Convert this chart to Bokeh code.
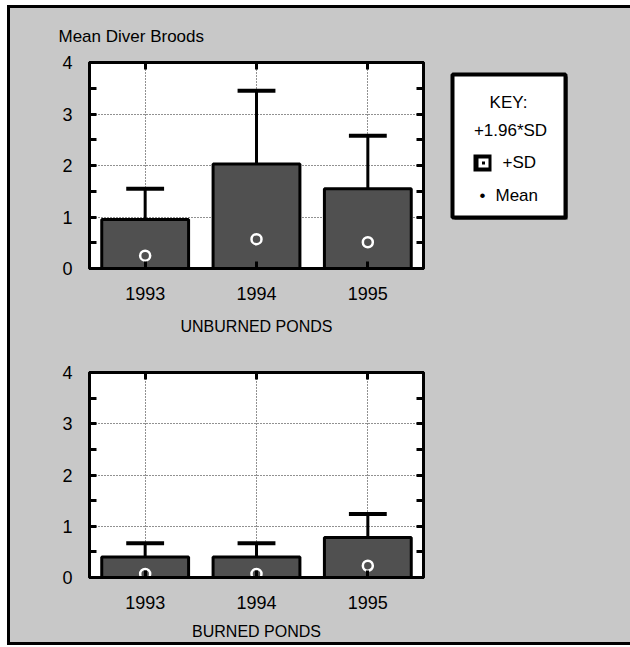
from bokeh.plotting import figure
from bokeh.models import Range1d, FixedTicker, LinearAxis, Label, Div
from bokeh.layouts import column, row
from bokeh.embed import file_html
from bokeh.resources import INLINE

# ---- data ----
years = ["1993", "1994", "1995"]
x_pos = [1, 2, 3]
unburned_sd = [0.95, 2.03, 1.55]      # bar top: +SD
unburned_ci = [1.55, 3.45, 2.58]      # whisker top: +1.96*SD
unburned_mean = [0.25, 0.57, 0.51]
burned_sd = [0.40, 0.40, 0.78]
burned_ci = [0.67, 0.67, 1.24]
burned_mean = [0.07, 0.07, 0.23]
y_ticks = [0, 1, 2, 3, 4]
y_minor = [0.5, 1.5, 2.5, 3.5]

FONT = "Liberation Sans"
BG = "#c8c8c8"
BAR = "#505050"
BAR_W = 0.78
CAP = 0.17


def style_axis(ax, show_labels):
    ax.axis_line_width = 3
    ax.axis_line_color = "black"
    ax.major_tick_in = 7
    ax.major_tick_out = 0
    ax.major_tick_line_width = 3
    ax.minor_tick_in = 7
    ax.minor_tick_out = 0
    ax.minor_tick_line_width = 3
    ax.major_label_text_font = FONT
    ax.major_label_text_color = "black"
    if not show_labels:
        ax.major_label_overrides = {t: "" for t in ax.ticker.ticks}
        ax.major_label_text_font_size = "1px"
        ax.major_label_standoff = 0


def make_panel(sd, ci, mean, label, width, height, mb_top, mb_bottom,
               tick_standoff, lab_standoff):
    p = figure(width=width, height=height,
               x_range=Range1d(0.5, 3.5), y_range=Range1d(0, 4),
               output_backend="svg", toolbar_location=None,
               min_border_left=79, min_border_right=width - 79 - 334,
               min_border_top=mb_top, min_border_bottom=mb_bottom,
               background_fill_color="white", border_fill_color=BG,
               outline_line_color="black", outline_line_width=3)
    # grids
    p.xgrid.ticker = FixedTicker(ticks=x_pos)
    p.ygrid.ticker = FixedTicker(ticks=y_ticks)
    for g in (p.xgrid, p.ygrid):
        g.grid_line_color = "#222222"
        g.grid_line_dash = "1 2"
        g.grid_line_width = 1

    # bottom / left axes
    p.xaxis.ticker = FixedTicker(ticks=x_pos)
    p.xaxis.major_label_overrides = {x: y for x, y in zip(x_pos, years)}
    style_axis(p.xaxis[0], True)
    p.xaxis.major_label_text_font_size = "18px"
    p.xaxis.major_label_standoff = tick_standoff
    p.xaxis.axis_label = label
    p.xaxis.axis_label_text_font = FONT
    p.xaxis.axis_label_text_font_style = "normal"
    p.xaxis.axis_label_text_font_size = "16px"
    p.xaxis.axis_label_text_color = "black"
    p.xaxis.axis_label_standoff = lab_standoff

    p.yaxis.ticker = FixedTicker(ticks=y_ticks, minor_ticks=y_minor)
    style_axis(p.yaxis[0], True)
    p.yaxis.major_label_text_font_size = "18px"
    p.yaxis.major_label_standoff = 17

    right = LinearAxis(ticker=FixedTicker(ticks=y_ticks, minor_ticks=y_minor))
    style_axis(right, False)
    p.add_layout(right, "right")
    top = LinearAxis(ticker=FixedTicker(ticks=x_pos))
    style_axis(top, False)
    p.add_layout(top, "above")

    # marks
    p.vbar(x=x_pos, top=sd, bottom=0, width=BAR_W, fill_color=BAR,
           line_color="black", line_width=3)
    p.segment(x0=x_pos, y0=sd, x1=x_pos, y1=ci, line_color="black", line_width=3)
    p.segment(x0=[x - CAP for x in x_pos], y0=ci, x1=[x + CAP for x in x_pos], y1=ci,
              line_color="black", line_width=4)
    p.scatter(x=x_pos, y=mean, size=10, fill_color=BAR, line_color="white", line_width=2.5)
    return p


top = make_panel(unburned_sd, unburned_ci, unburned_mean, "UNBURNED PONDS",
                 430, 337, 54, 77, 18, 15)
bottom = make_panel(burned_sd, burned_ci, burned_mean, "BURNED PONDS",
                    620, 297, 27, 64, 18, 11)

# title of the whole chart
top.title.text = "Mean Diver Broods"
top.title.align = "left"
top.title.offset = -31
top.title.text_font = FONT
top.title.text_font_size = "17px"
top.title.text_font_style = "normal"
top.title.text_color = "black"
top.title.standoff = 33

# key panel: its frame lines up with the top panel's frame (206 px tall)
KW, KH = 190, 206
key = figure(width=KW, height=337, x_range=Range1d(0, KW), y_range=Range1d(0, KH),
             output_backend="svg", toolbar_location=None,
             min_border_left=0, min_border_right=0, min_border_top=54, min_border_bottom=77,
             background_fill_color=BG, border_fill_color=BG,
             outline_line_color=None)
key.axis.visible = False
key.grid.visible = False
key.quad(left=[14], right=[127], bottom=[49], top=[192], fill_color="black", line_color=None)
key.quad(left=[12], right=[125], bottom=[51], top=[194], fill_color="white",
         line_color="black", line_width=4)
key.quad(left=[33], right=[51], bottom=[97], top=[114], fill_color="black", line_color=None)
key.quad(left=[38], right=[48], bottom=[101], top=[110], fill_color="white", line_color=None)
key.quad(left=[41.5], right=[44.5], bottom=[104], top=[107], fill_color="black", line_color=None)
for txt, x, y, align in [("KEY:", 68, 166, "center"),
                         ("+1.96*SD", 70, 138, "center"),
                         ("+SD", 62, 106, "left"),
                         ("\u2022", 39, 73, "left"),
                         ("Mean", 55, 73, "left")]:
    key.add_layout(Label(x=x, y=y, text=txt, text_font=FONT, text_font_size="17px",
                         text_align=align, text_baseline="middle", text_color="black"))

# outer frame lines (left, top, bottom) as thin black blocks
def bar_div(w, h):
    return Div(text="", width=w, height=h, margin=0,
               styles={"background-color": "black"})

inner = column(row(top, key, spacing=0, styles={"background-color": BG}),
               bottom, spacing=0, styles={"background-color": BG})
layout = column(bar_div(623, 3),
                row(bar_div(3, 634), inner, spacing=0, styles={"background-color": BG}),
                bar_div(623, 3),
                spacing=0,
                styles={"margin-left": "7px", "margin-top": "5px"})

open("out.html", "w").write(file_html(layout, INLINE))
